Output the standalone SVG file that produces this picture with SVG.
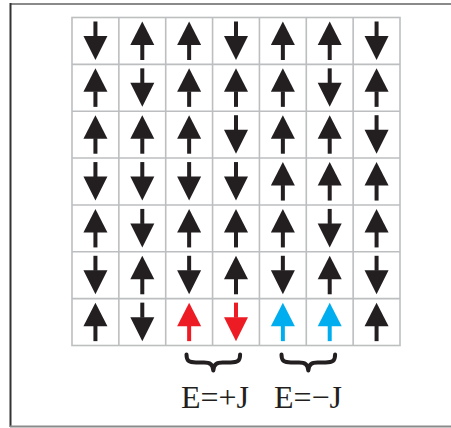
<svg xmlns="http://www.w3.org/2000/svg" xmlns:xlink="http://www.w3.org/1999/xlink" width="451" height="428" viewBox="0 0 451 428">
<style>
.grid{fill:none;stroke:#bcbec0;stroke-width:1.6}
.k{fill:#231f20}
.r{fill:#ed1c24}
.b{fill:#00aeef}
.brace{fill:none;stroke:#231f20;stroke-width:4;stroke-linecap:round;stroke-linejoin:round}
.lbl{font-family:"Liberation Serif","Times New Roman",serif;font-size:32px;fill:#231f20;text-anchor:middle}
</style>
<defs>
<g id="up"><polygon points="0,4 12,27.5 -12,27.5"/><rect x="-2" y="27" width="4" height="15.5"/></g>
<g id="dn"><rect x="-2" y="4" width="4" height="15"/><polygon points="-12,18.5 12,18.5 0,42.5"/></g>
</defs>
<rect x="0" y="0" width="451" height="428" fill="#fff"/>
<g id="frame">
<line x1="10" y1="4" x2="451" y2="4" stroke="#8a8a8a" stroke-width="2"/>
<line x1="10.5" y1="3" x2="10.5" y2="427" stroke="#333" stroke-width="2"/>
<line x1="10" y1="426.5" x2="451" y2="426.5" stroke="#8a8a8a" stroke-width="2"/>
</g>
<g id="grid" class="grid">
<rect x="72" y="17.5" width="328" height="328"/>
<path d="M118.86 17.5V345.5M165.71 17.5V345.5M212.57 17.5V345.5M259.43 17.5V345.5M306.29 17.5V345.5M353.14 17.5V345.5M72 64.36H400M72 111.21H400M72 158.07H400M72 204.93H400M72 251.79H400M72 298.64H400"/>
</g>
<g id="spins" class="k">
<g id="r1">
<use xlink:href="#dn" x="95.43" y="17.5"/><use xlink:href="#up" x="142.29" y="17.5"/><use xlink:href="#up" x="189.14" y="17.5"/><use xlink:href="#dn" x="236" y="17.5"/><use xlink:href="#up" x="282.86" y="17.5"/><use xlink:href="#up" x="329.71" y="17.5"/><use xlink:href="#dn" x="376.57" y="17.5"/>
</g>
<g id="r2">
<use xlink:href="#up" x="95.43" y="64.36"/><use xlink:href="#dn" x="142.29" y="64.36"/><use xlink:href="#up" x="189.14" y="64.36"/><use xlink:href="#up" x="236" y="64.36"/><use xlink:href="#up" x="282.86" y="64.36"/><use xlink:href="#dn" x="329.71" y="64.36"/><use xlink:href="#up" x="376.57" y="64.36"/>
</g>
<g id="r3">
<use xlink:href="#up" x="95.43" y="111.21"/><use xlink:href="#up" x="142.29" y="111.21"/><use xlink:href="#up" x="189.14" y="111.21"/><use xlink:href="#dn" x="236" y="111.21"/><use xlink:href="#up" x="282.86" y="111.21"/><use xlink:href="#up" x="329.71" y="111.21"/><use xlink:href="#dn" x="376.57" y="111.21"/>
</g>
<g id="r4">
<use xlink:href="#dn" x="95.43" y="158.07"/><use xlink:href="#dn" x="142.29" y="158.07"/><use xlink:href="#dn" x="189.14" y="158.07"/><use xlink:href="#dn" x="236" y="158.07"/><use xlink:href="#up" x="282.86" y="158.07"/><use xlink:href="#up" x="329.71" y="158.07"/><use xlink:href="#up" x="376.57" y="158.07"/>
</g>
<g id="r5">
<use xlink:href="#up" x="95.43" y="204.93"/><use xlink:href="#dn" x="142.29" y="204.93"/><use xlink:href="#up" x="189.14" y="204.93"/><use xlink:href="#up" x="236" y="204.93"/><use xlink:href="#up" x="282.86" y="204.93"/><use xlink:href="#dn" x="329.71" y="204.93"/><use xlink:href="#up" x="376.57" y="204.93"/>
</g>
<g id="r6">
<use xlink:href="#dn" x="95.43" y="251.79"/><use xlink:href="#up" x="142.29" y="251.79"/><use xlink:href="#dn" x="189.14" y="251.79"/><use xlink:href="#up" x="236" y="251.79"/><use xlink:href="#dn" x="282.86" y="251.79"/><use xlink:href="#up" x="329.71" y="251.79"/><use xlink:href="#dn" x="376.57" y="251.79"/>
</g>
<g id="r7">
<use xlink:href="#up" x="95.43" y="298.64"/><use xlink:href="#dn" x="142.29" y="298.64"/><use xlink:href="#up" class="r" x="189.14" y="298.64"/><use xlink:href="#dn" class="r" x="236" y="298.64"/><use xlink:href="#up" class="b" x="282.86" y="298.64"/><use xlink:href="#up" class="b" x="329.71" y="298.64"/><use xlink:href="#up" x="376.57" y="298.64"/>
</g>
</g>
<g id="braces" class="brace">
<path d="M186.5 354.5 C186.5 361 189 362.5 196 362.5 L204 362.5 C210 362.5 212.6 364 213.3 370.5 C214 364 216.6 362.5 222.6 362.5 L230.6 362.5 C237.6 362.5 240.1 361 240.1 354.5"/>
<path d="M281.5 354.5 C281.5 361 284 362.5 291 362.5 L299 362.5 C305 362.5 307.6 364 308.3 370.5 C309 364 311.6 362.5 317.6 362.5 L325.6 362.5 C332.6 362.5 335.1 361 335.1 354.5"/>
</g>
<g id="labels">
<text class="lbl" x="215" y="408">E=+J</text>
<text class="lbl" x="308" y="408">E=−J</text>
</g>
</svg>
